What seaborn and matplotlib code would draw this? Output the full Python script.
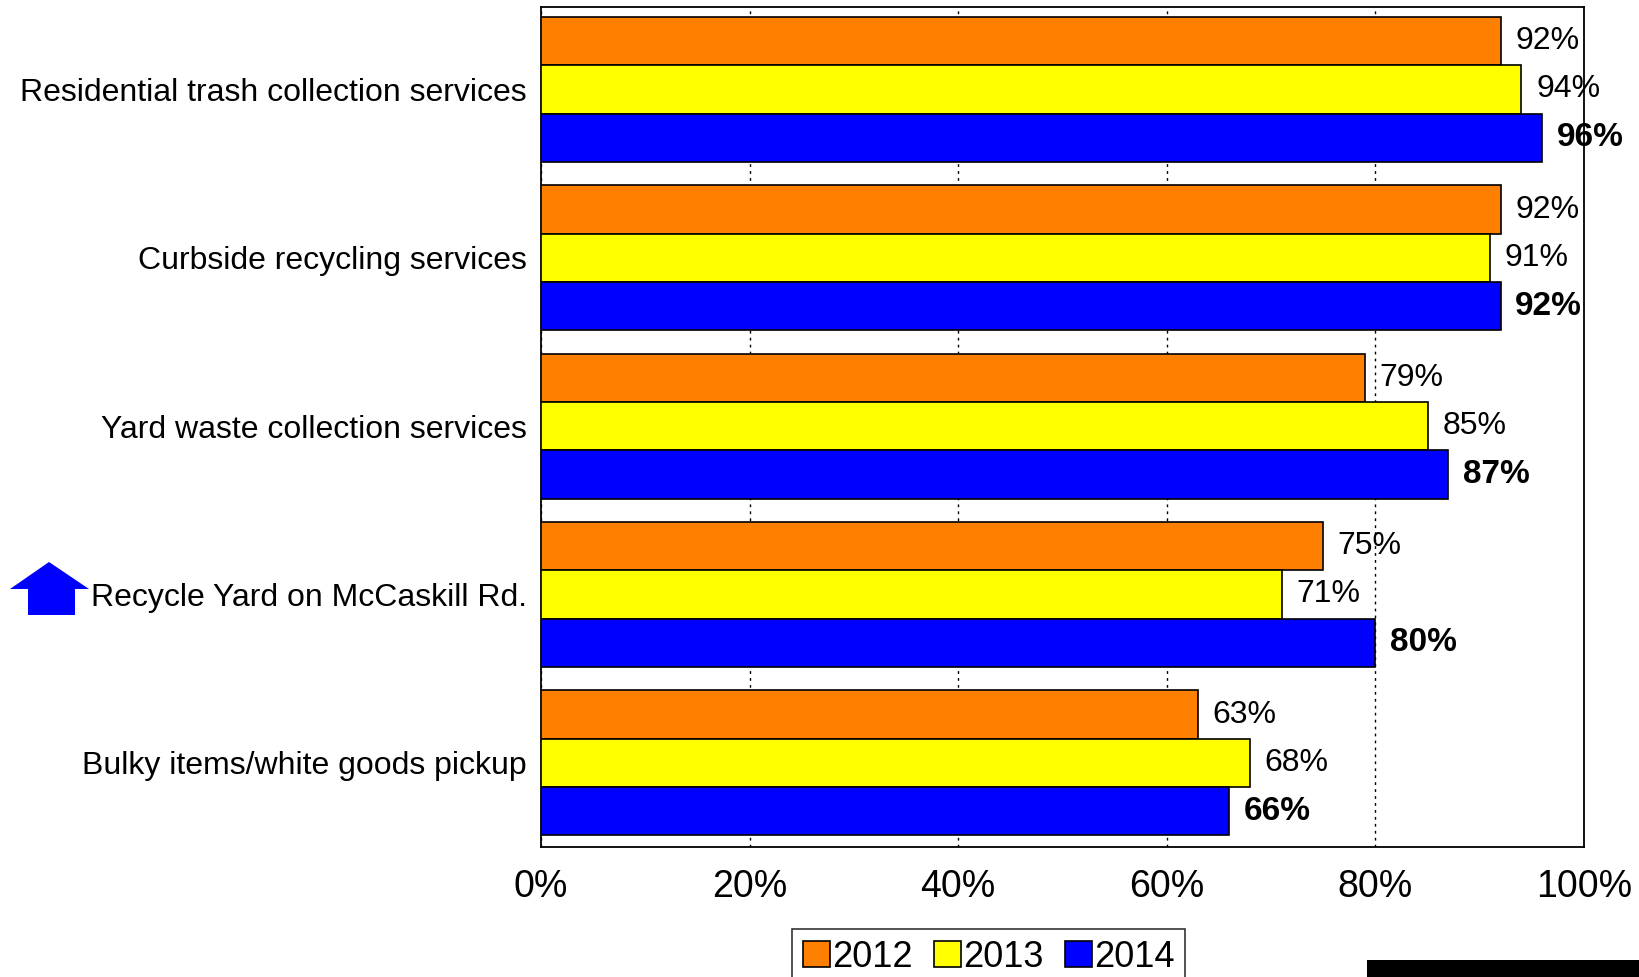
import pandas as pd
import seaborn as sns
import matplotlib.pyplot as plt
from matplotlib.patches import Polygon, Rectangle

services = [
    "Residential trash collection services",
    "Curbside recycling services",
    "Yard waste collection services",
    "Recycle Yard on McCaskill Rd.",
    "Bulky items/white goods pickup",
]
years = ["2012", "2013", "2014"]
pct_2012 = [92, 92, 79, 75, 63]
pct_2013 = [94, 91, 85, 71, 68]
pct_2014 = [96, 92, 87, 80, 66]
colors = ["#FF8000", "#FFFF00", "#0000FF"]

df = pd.DataFrame({"service": services, "2012": pct_2012, "2013": pct_2013, "2014": pct_2014})
plot_df = df.melt(id_vars="service", var_name="year", value_name="pct")

sns.set_theme(style="white")
plt.rcParams["font.family"] = ["Liberation Sans", "DejaVu Sans"]
plt.rcParams["text.color"] = "black"
plt.rcParams["xtick.color"] = "black"
plt.rcParams["ytick.color"] = "black"

fig = plt.figure(figsize=(16.4, 9.77), dpi=100)
ax = fig.add_axes([541 / 1640, 1 - 847 / 977, (1584 - 541) / 1640, (847 - 7) / 977])

sns.barplot(
    data=plot_df, y="service", x="pct", hue="year", order=services, hue_order=years,
    palette=colors, orient="h", width=0.86, gap=0, edgecolor="black", linewidth=1.2,
    saturation=1, legend=False, ax=ax, zorder=3,
)

for i, container in enumerate(ax.containers):
    bold = years[i] == "2014"
    ax.bar_label(container, labels=[f"{v:.0f}%" for v in container.datavalues],
                 padding=10.5, fontsize=24 if bold else 23, color="black",
                 fontweight="bold" if bold else "normal", zorder=5)

ax.set_xlim(0, 100)
ax.set_ylim(4.5, -0.49)
ax.set_xticks([0, 20, 40, 60, 80, 100])
ax.set_xticklabels([f"{t}%" for t in range(0, 101, 20)], fontsize=27)
ax.tick_params(axis="x", length=0, pad=16)
ax.tick_params(axis="y", length=0, pad=10, labelsize=23)
ax.xaxis.grid(True, linestyle=(0, (2, 3)), color="black", linewidth=1, zorder=0)
ax.set_axisbelow(True)
ax.set_xlabel("")
ax.set_ylabel("")
for s in ax.spines.values():
    s.set_visible(True)
    s.set_color("black")
    s.set_linewidth(1.3)

handles = [Rectangle((0, 0), 1, 1, facecolor=c, edgecolor="black", linewidth=1.2) for c in colors]
leg = fig.legend(handles, years, loc="upper left", bbox_to_anchor=(792 / 1640, 1 - 929 / 977),
                 ncol=3, fontsize=26, frameon=True, fancybox=False, edgecolor="black",
                 handlelength=0.75, handleheight=0.75, handletextpad=0.05, columnspacing=0.6,
                 borderpad=0.3, borderaxespad=0)
leg.get_frame().set_linewidth(1.2)

# blue up arrow next to the Recycle Yard label
arrow = [(10, 589), (49, 562), (89, 589), (75, 589), (75, 615), (28, 615), (28, 589)]
fig.patches.append(Polygon([(x / 1640, 1 - y / 977) for x, y in arrow], closed=True,
                           transform=fig.transFigure, facecolor="#0000FF", edgecolor="none"))
fig.patches.append(Rectangle((1367 / 1640, 0), 1 - 1367 / 1640, 17 / 977,
                             transform=fig.transFigure, facecolor="black", edgecolor="none"))

fig.savefig("out.png", dpi=100, facecolor="white")
